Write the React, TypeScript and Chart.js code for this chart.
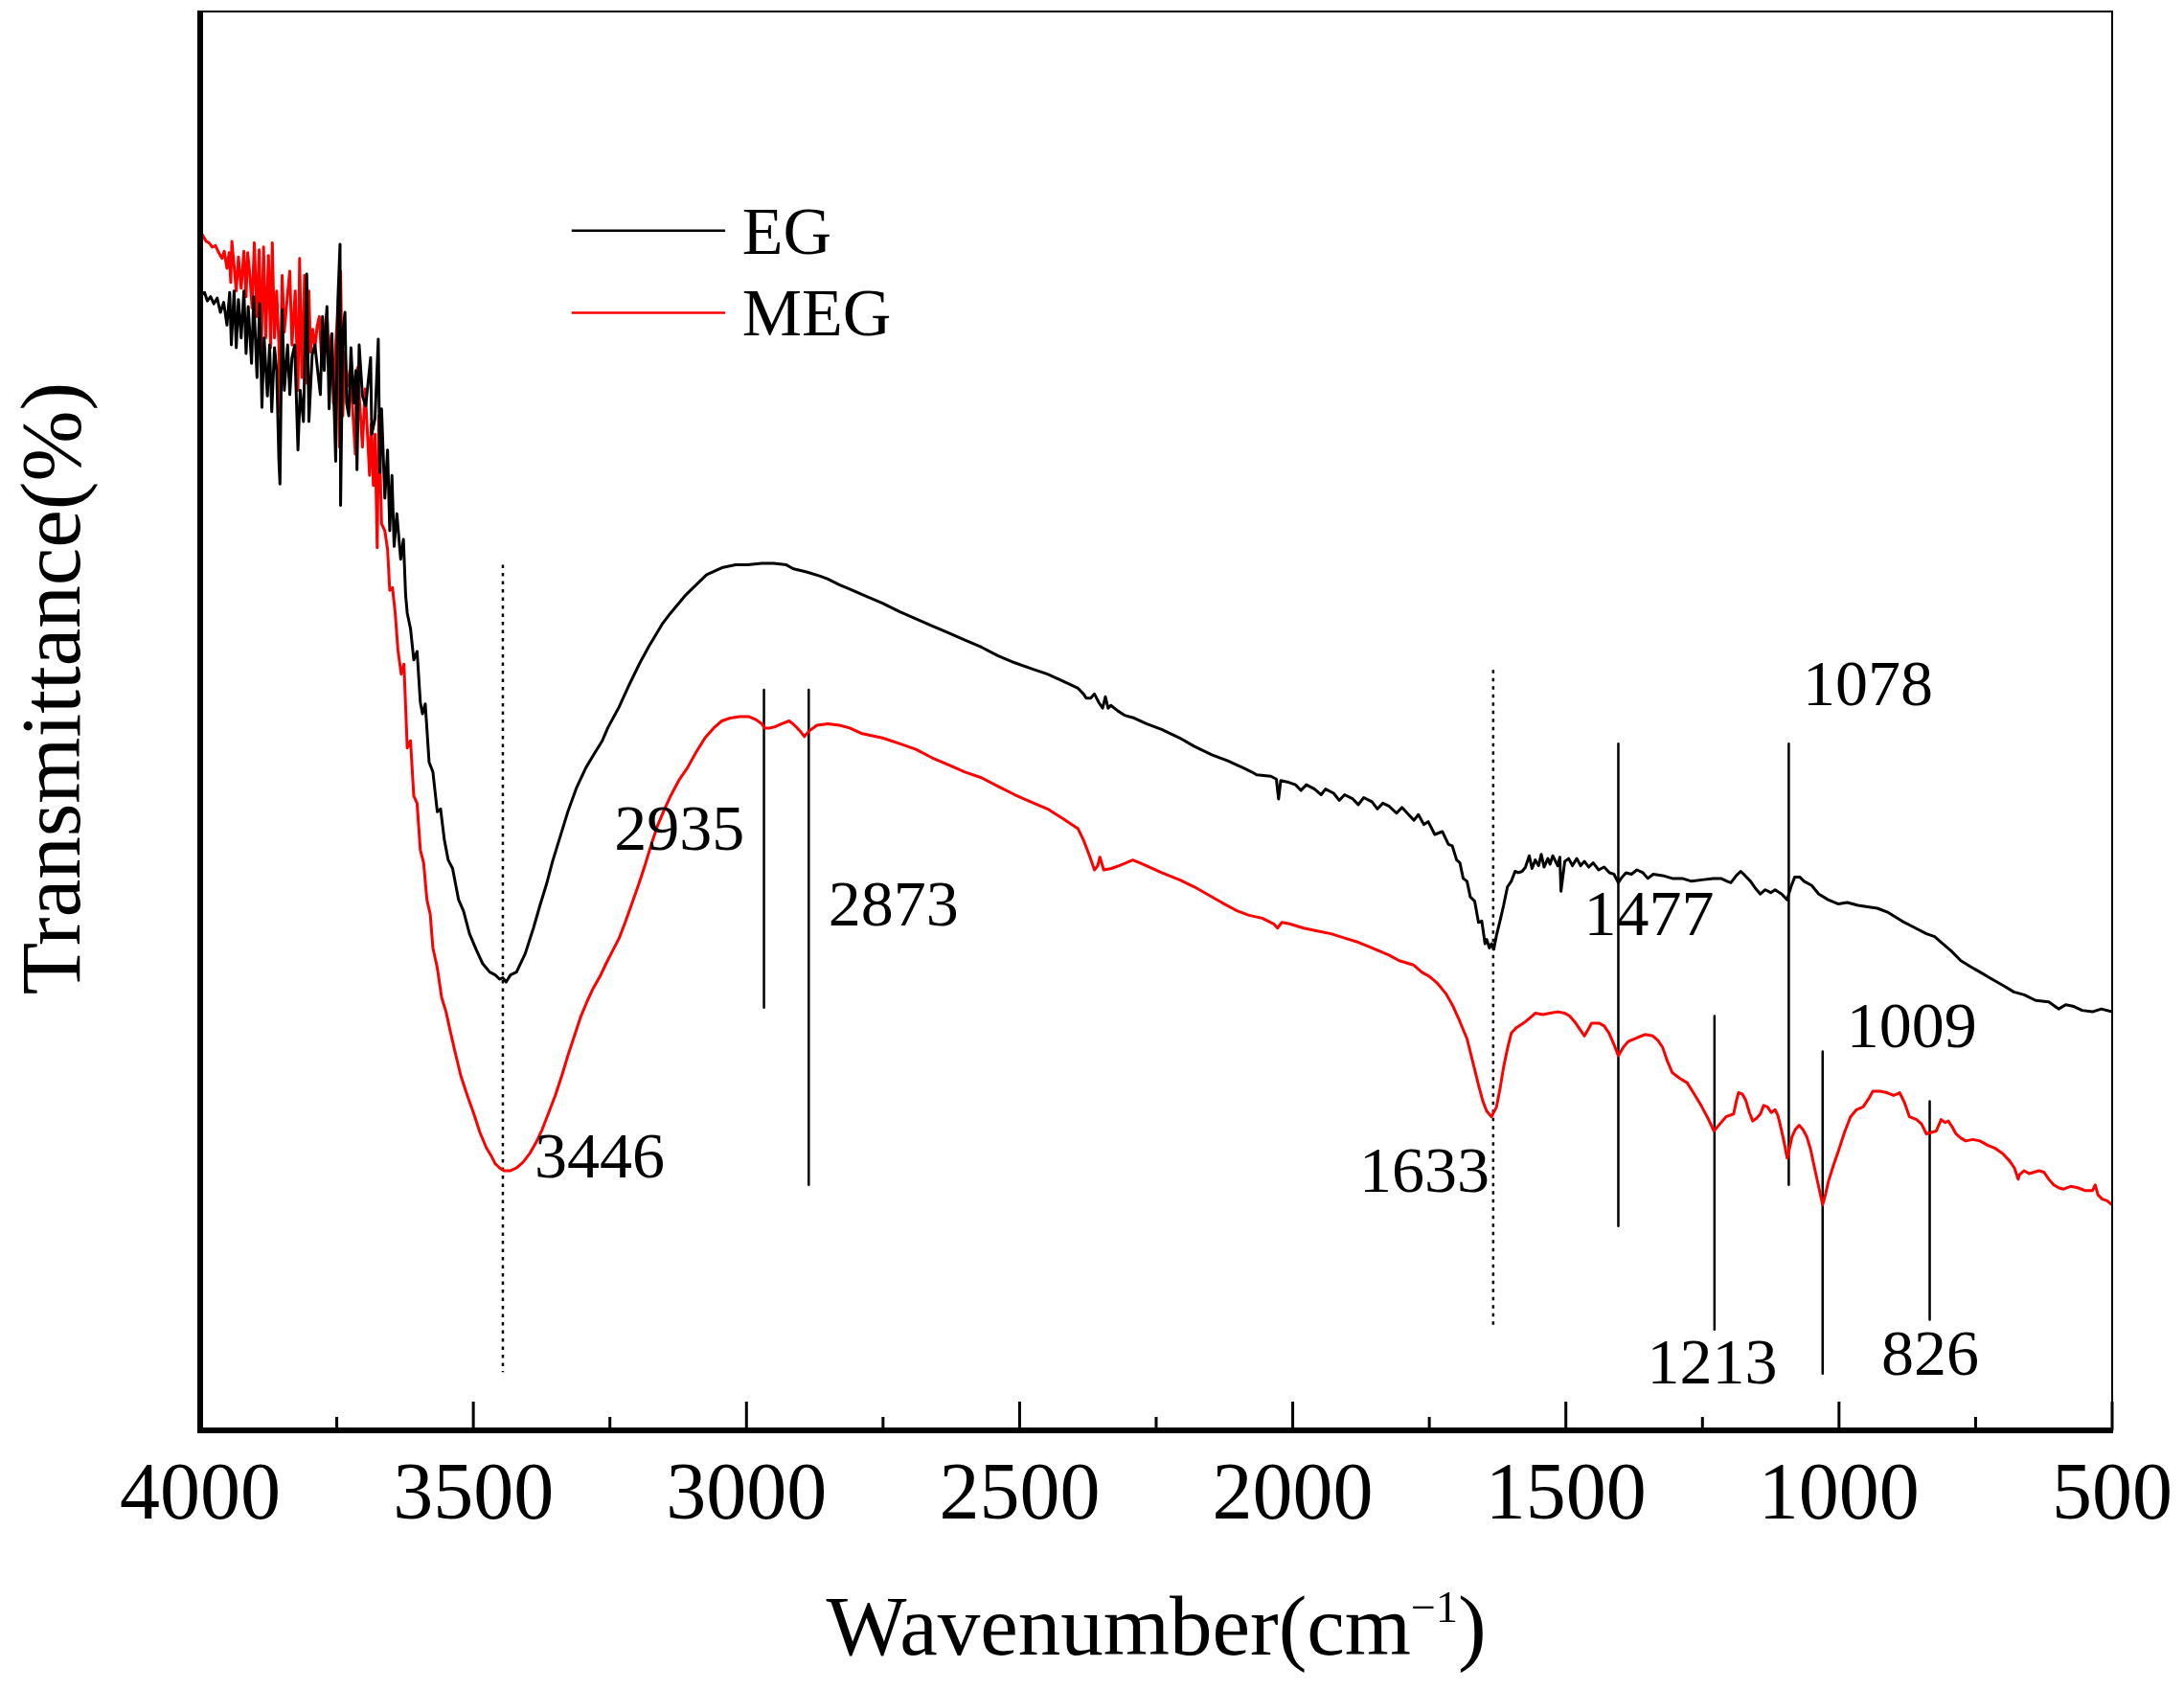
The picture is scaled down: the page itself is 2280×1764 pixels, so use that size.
import React, { useEffect, useRef } from 'react';
import { Chart, registerables } from 'chart.js';

Chart.register(...registerables);

const FONT = "'Liberation Serif', 'Times New Roman', serif";

// x axis ticks (wavenumber, cm-1)
const xTickValues = [4000, 3500, 3000, 2500, 2000, 1500, 1000, 500];
const xMinorTicks = [3750, 3250, 2750, 2250, 1750, 1250, 750];

// EG spectrum [wavenumber, transmittance (arb.)]
const egNoise: [number, number][] = [
  [4000, 80.1], [3998, 80.0], [3992, 80.2], [3987, 79.6], [3981, 79.9], [3975, 79.4], [3969, 79.8],
  [3963, 78.8], [3957, 79.5], [3951, 77.9], [3946, 80.2], [3943, 76.5], [3938, 80.3], [3934, 76.3],
  [3930, 79.7], [3925, 77.0], [3920, 80.3], [3916, 75.9], [3912, 79.2], [3906, 75.2], [3902, 79.9],
  [3896, 74.2], [3891, 79.4], [3887, 72.1], [3883, 77.0], [3877, 72.9], [3873, 76.5], [3869, 71.8],
  [3864, 76.3], [3860, 74.7], [3856, 68.4], [3854, 66.7], [3850, 79.0], [3846, 73.3], [3840, 76.5],
  [3836, 73.0], [3832, 75.6], [3827, 76.5], [3821, 69.1], [3817, 73.3], [3811, 71.1], [3805, 81.5],
  [3801, 71.1], [3795, 75.8], [3790, 76.5], [3785, 74.7], [3780, 73.0], [3776, 78.5], [3773, 74.7],
  [3768, 79.2], [3764, 72.0], [3759, 77.3], [3754, 71.1], [3752, 68.3], [3748, 79.6], [3744, 83.6],
  [3743, 65.2], [3739, 77.4], [3735, 78.8], [3732, 72.4], [3728, 71.5], [3724, 76.3], [3719, 72.4],
  [3715, 74.7], [3713, 67.7], [3709, 76.5], [3703, 72.9], [3697, 72.2], [3688, 75.6], [3686, 70.2],
  [3680, 71.3], [3674, 76.9], [3671, 67.5], [3668, 72.0], [3662, 65.7], [3657, 69.1], [3653, 63.4],
  [3649, 67.3], [3645, 62.3], [3640, 64.6], [3633, 61.4], [3628, 62.8], [3624, 58.9], [3621, 57.6],
];

const egBody: [number, number][] = [
  [3615, 56.5], [3609, 54.3], [3603, 54.9], [3597, 51.3], [3593, 50.5], [3588, 51.2], [3581, 47.1],
  [3574, 46.4], [3570, 45.0], [3566, 43.6], [3560, 43.8], [3553, 41.6], [3546, 40.2], [3538, 39.6],
  [3527, 37.4], [3518, 36.6], [3507, 35.0], [3495, 33.9], [3483, 32.9], [3470, 32.3], [3460, 32.1],
  [3452, 31.8], [3446, 31.9], [3440, 31.6], [3432, 32.1], [3421, 32.3], [3405, 33.6], [3390, 35.4],
  [3378, 37.0], [3366, 38.5], [3355, 40.1], [3343, 41.6], [3327, 43.6], [3311, 45.3], [3294, 46.7],
  [3280, 47.6], [3264, 48.6], [3254, 49.5], [3233, 51.0], [3214, 52.6], [3195, 54.1], [3178, 55.3],
  [3153, 56.9], [3139, 57.6], [3113, 58.8], [3092, 59.6], [3073, 60.3], [3045, 60.8], [3020, 61.0],
  [2998, 61.0], [2972, 61.1], [2950, 61.1], [2927, 61.0], [2918, 60.8], [2912, 60.7], [2890, 60.5],
  [2865, 60.2], [2851, 60.0], [2830, 59.6], [2811, 59.3], [2788, 58.9], [2751, 58.3], [2720, 57.7],
  [2690, 57.2], [2660, 56.7], [2630, 56.2], [2600, 55.7], [2570, 55.2], [2540, 54.6], [2509, 54.1],
  [2480, 53.7], [2449, 53.3], [2420, 52.8], [2393, 52.3], [2383, 51.9], [2378, 51.6], [2370, 51.6],
  [2363, 51.9], [2355, 51.3], [2348, 50.9], [2343, 51.7], [2338, 50.9], [2333, 51.1], [2320, 50.7],
  [2308, 50.4], [2290, 50.2], [2268, 49.8], [2240, 49.4], [2207, 48.8], [2180, 48.2], [2147, 47.6],
  [2120, 47.2], [2091, 46.7], [2075, 46.4], [2066, 46.2], [2040, 46.1], [2030, 45.9], [2026, 44.5],
  [2022, 45.8], [2010, 45.7], [1995, 45.5], [1985, 45.1], [1975, 45.5], [1960, 45.2], [1948, 44.8],
  [1940, 45.2], [1925, 44.9], [1915, 44.4], [1905, 44.8], [1890, 44.5], [1880, 44.1], [1870, 44.6],
  [1855, 44.3], [1845, 43.8], [1835, 44.2], [1824, 44.0], [1810, 43.5], [1800, 43.9], [1788, 43.4],
  [1778, 43.0], [1770, 43.4], [1760, 42.7], [1752, 42.9], [1740, 42.0], [1726, 42.2], [1715, 41.3],
  [1708, 41.2], [1700, 40.2], [1694, 40.0], [1688, 38.9], [1681, 38.7], [1675, 37.6], [1667, 37.3],
  [1660, 35.8], [1654, 35.9], [1648, 34.3], [1645, 34.6], [1640, 34.0], [1636, 34.3], [1632, 33.9],
  [1627, 34.9], [1620, 36.0], [1614, 37.0], [1607, 38.3], [1600, 38.7], [1593, 39.4], [1587, 39.3],
  [1580, 39.4], [1574, 39.7], [1567, 40.5], [1562, 39.6], [1556, 40.2], [1550, 39.8], [1545, 40.6],
  [1540, 39.7], [1533, 40.3], [1529, 39.9], [1524, 40.5], [1515, 39.8], [1511, 40.4], [1509, 38.0],
  [1502, 40.1], [1495, 40.3], [1488, 39.8], [1480, 40.3], [1473, 39.8], [1466, 40.1], [1458, 39.7],
  [1450, 40.0], [1440, 39.5], [1430, 39.7], [1420, 39.3], [1412, 39.2], [1404, 38.6], [1399, 38.9],
  [1390, 39.3], [1380, 39.2], [1370, 39.5], [1359, 39.3], [1350, 38.9], [1340, 39.2], [1323, 39.1],
  [1305, 38.9], [1287, 38.9], [1270, 38.7], [1251, 38.8], [1230, 38.9], [1216, 38.9], [1205, 38.7],
  [1198, 38.6], [1188, 39.1], [1180, 39.4], [1172, 39.1], [1162, 38.7], [1153, 38.2], [1144, 37.8],
  [1135, 38.1], [1125, 37.9], [1117, 38.1], [1105, 37.8], [1095, 37.4], [1088, 38.3], [1081, 39.0],
  [1072, 39.0], [1064, 38.7], [1050, 38.4], [1037, 37.8], [1020, 37.4], [1001, 37.1], [985, 37.2],
  [965, 37.0], [948, 36.9], [930, 36.8], [910, 36.5], [885, 35.9], [860, 35.4], [840, 35.0],
  [825, 34.8], [813, 34.4], [795, 33.8], [777, 33.1], [760, 32.7], [742, 32.3], [720, 31.8],
  [697, 31.3], [680, 30.9], [661, 30.7], [640, 30.3], [616, 30.2], [605, 29.9], [598, 29.7],
  [585, 30.0], [572, 29.9], [555, 29.6], [536, 29.5], [520, 29.7], [500, 29.5],
];

// MEG spectrum
const megNoise: [number, number][] = [
  [4000, 84.5], [3995, 84.2], [3989, 83.8], [3984, 83.7], [3978, 83.4], [3972, 83.5], [3966, 83.0],
  [3960, 82.6], [3956, 83.1], [3951, 81.9], [3947, 83.0], [3944, 80.9], [3942, 83.8], [3938, 82.1],
  [3934, 80.3], [3930, 82.7], [3925, 80.5], [3920, 83.1], [3916, 79.9], [3913, 83.0], [3909, 81.4],
  [3905, 79.1], [3901, 83.7], [3896, 78.5], [3892, 83.2], [3888, 76.3], [3884, 83.4], [3880, 77.0],
  [3875, 82.8], [3871, 76.3], [3868, 83.7], [3864, 77.0], [3860, 80.3], [3856, 76.5], [3854, 71.8],
  [3850, 81.4], [3846, 77.4], [3840, 80.1], [3836, 81.7], [3832, 76.5], [3826, 80.3], [3821, 73.3],
  [3818, 82.6], [3814, 74.2], [3809, 81.4], [3805, 73.8], [3801, 80.3], [3798, 76.0], [3794, 77.6],
  [3790, 76.3], [3786, 77.8], [3782, 78.5], [3778, 75.6], [3773, 77.4], [3768, 78.8], [3764, 75.1],
  [3760, 77.2], [3756, 72.4], [3752, 76.5], [3748, 79.2], [3745, 69.3], [3743, 81.7], [3739, 71.5],
  [3735, 76.0], [3731, 73.6], [3726, 74.7], [3721, 72.0], [3716, 68.8], [3712, 74.9], [3708, 72.4],
  [3703, 69.3], [3698, 73.4], [3694, 70.4], [3690, 67.3], [3687, 70.9], [3683, 66.6], [3680, 70.2],
  [3676, 62.2], [3673, 71.5], [3668, 63.9], [3662, 63.4], [3657, 62.1], [3653, 59.2], [3648, 59.4],
  [3643, 57.6],
];

const megBody: [number, number][] = [
  [3638, 55.0], [3632, 53.3], [3627, 54.0], [3621, 48.1], [3615, 48.6], [3609, 44.7], [3603, 44.2],
  [3597, 40.9], [3591, 40.0], [3585, 37.4], [3579, 36.4], [3574, 34.0], [3566, 32.6], [3558, 30.5],
  [3550, 29.5], [3542, 28.1], [3533, 26.6], [3523, 25.0], [3511, 23.6], [3499, 22.3], [3488, 21.0],
  [3476, 19.9], [3468, 19.4], [3460, 18.8], [3452, 18.5], [3444, 18.3], [3432, 18.3], [3421, 18.5],
  [3409, 18.9], [3397, 19.5], [3385, 20.3], [3374, 21.2], [3362, 22.4], [3350, 23.6], [3338, 25.0],
  [3327, 26.4], [3315, 27.8], [3303, 29.2], [3291, 30.3], [3280, 31.2], [3268, 32.0], [3257, 32.9],
  [3245, 33.8], [3233, 34.7], [3222, 35.8], [3210, 37.1], [3198, 38.4], [3186, 39.8], [3175, 41.2],
  [3163, 42.6], [3151, 43.7], [3139, 44.7], [3124, 45.8], [3108, 46.7], [3092, 47.8], [3076, 48.8],
  [3060, 49.5], [3045, 50.0], [3030, 50.2], [3012, 50.3], [2995, 50.3], [2983, 50.1], [2972, 49.8],
  [2967, 49.5], [2957, 49.5], [2947, 49.6], [2935, 49.8], [2922, 50.0], [2915, 49.8], [2907, 49.5],
  [2900, 49.2], [2894, 48.9], [2885, 49.3], [2871, 49.7], [2851, 49.8], [2830, 49.7], [2811, 49.5],
  [2788, 49.1], [2751, 48.8], [2720, 48.4], [2690, 48.0], [2660, 47.4], [2630, 46.9], [2600, 46.4],
  [2570, 46.0], [2540, 45.4], [2509, 44.8], [2480, 44.3], [2449, 43.8], [2420, 43.1], [2393, 42.4],
  [2383, 41.6], [2372, 40.5], [2363, 39.5], [2357, 39.8], [2353, 40.4], [2346, 39.5], [2332, 39.6],
  [2318, 39.8], [2305, 40.0], [2293, 40.2], [2280, 40.0], [2268, 39.8], [2240, 39.3], [2207, 38.8],
  [2180, 38.3], [2157, 37.8], [2130, 37.2], [2101, 36.6], [2080, 36.3], [2056, 36.1], [2035, 35.7],
  [2028, 35.4], [2020, 35.8], [2006, 35.7], [1980, 35.4], [1955, 35.2], [1930, 35.0], [1905, 34.7],
  [1880, 34.4], [1855, 34.0], [1824, 33.5], [1805, 33.1], [1779, 32.8], [1764, 32.3], [1750, 32.0],
  [1735, 31.5], [1720, 30.8], [1708, 30.0], [1695, 28.9], [1681, 27.6], [1670, 25.9], [1659, 24.2],
  [1652, 23.2], [1645, 22.5], [1636, 22.1], [1627, 22.8], [1620, 24.2], [1614, 25.6], [1607, 26.9],
  [1600, 28.0], [1590, 28.4], [1574, 28.8], [1565, 29.1], [1556, 29.4], [1542, 29.3], [1529, 29.4],
  [1515, 29.5], [1502, 29.4], [1493, 29.2], [1484, 28.8], [1475, 28.3], [1466, 27.8], [1460, 28.2],
  [1453, 28.7], [1439, 28.7], [1430, 28.5], [1421, 28.0], [1412, 27.2], [1404, 26.4], [1395, 27.0],
  [1386, 27.4], [1368, 27.7], [1355, 27.9], [1341, 27.8], [1332, 27.5], [1323, 27.0], [1314, 26.0],
  [1305, 25.2], [1291, 24.8], [1278, 24.5], [1265, 23.7], [1251, 22.8], [1240, 22.0], [1229, 21.1],
  [1218, 21.6], [1207, 22.1], [1193, 22.3], [1188, 23.2], [1184, 23.8], [1177, 23.7], [1171, 23.3],
  [1164, 22.4], [1158, 21.8], [1151, 22.0], [1144, 22.3], [1138, 22.9], [1131, 22.8], [1124, 22.4],
  [1117, 22.6], [1112, 22.2], [1108, 21.6], [1101, 20.4], [1095, 19.2], [1090, 20.0], [1086, 20.7],
  [1080, 21.2], [1073, 21.5], [1066, 21.2], [1059, 20.7], [1052, 19.8], [1046, 18.7], [1038, 17.3],
  [1030, 15.9], [1025, 16.6], [1019, 17.6], [1010, 18.7], [1001, 19.7], [990, 21.0], [979, 22.1],
  [968, 22.6], [956, 22.8], [947, 23.3], [938, 23.9], [925, 23.9], [912, 23.8], [900, 23.6],
  [889, 23.8], [880, 23.1], [871, 22.1], [858, 21.9], [849, 21.6], [840, 20.9], [831, 21.0],
  [822, 21.1], [813, 21.9], [806, 21.7], [800, 21.8], [793, 21.4], [786, 20.9], [777, 20.6],
  [768, 20.4], [755, 20.5], [742, 20.4], [728, 20.1], [715, 19.9], [700, 19.5], [688, 19.0],
  [679, 18.5], [672, 17.7], [670, 18.0], [661, 18.3], [652, 18.1], [643, 18.2], [634, 18.3],
  [625, 18.2], [616, 17.7], [607, 17.3], [598, 17.1], [589, 17.0], [576, 17.2], [563, 17.1],
  [550, 16.9], [536, 16.9], [531, 17.3], [526, 16.6], [518, 16.3], [510, 16.2], [500, 15.9],
];

// peak marker lines: [wavenumber, top, bottom]
const dottedMarkers: [number, number, number][] = [
  [3446, 61.0, 4.1],
  [1633, 53.6, 7.1],
];
const solidMarkers: [number, number, number][] = [
  [2968, 52.2, 29.8],
  [2886, 52.2, 17.3],
  [1404, 48.4, 14.4],
  [1092, 48.4, 17.3],
  [1228, 29.2, 7.1],
  [1030, 26.7, 4.0],
  [834, 23.2, 7.8],
];

// peak labels: text, anchor wavenumber, baseline value, alignment
const peakLabels: [string, number, number, CanvasTextAlign][] = [
  ['3446', 3388, 17.8, 'left'],
  ['2935', 3242, 40.9, 'left'],
  ['2873', 2850, 35.6, 'left'],
  ['1633', 1759, 16.8, 'center'],
  ['1477', 1348, 34.9, 'center'],
  ['1078', 947, 51.1, 'center'],
  ['1009', 867, 27.0, 'center'],
  ['1213', 1232, 3.3, 'center'],
  ['826', 833, 3.9, 'center'],
];

const seriesNames = ['EG', 'MEG'];
const seriesColors = ['#000000', '#ff0000'];

const toXY = (arr: [number, number][]) => arr.map(([x, y]) => ({ x, y }));

const decorPlugin = {
  id: 'decor',
  afterDraw(chart: any) {
    const { ctx, chartArea: a } = chart;
    const xs = chart.scales.x;
    const ys = chart.scales.y;
    ctx.save();
    ctx.strokeStyle = '#000';
    ctx.fillStyle = '#000';

    // frame: thin top/right, thick left/bottom
    ctx.lineWidth = 2;
    ctx.beginPath();
    ctx.moveTo(a.left, a.top);
    ctx.lineTo(a.right, a.top);
    ctx.lineTo(a.right, a.bottom);
    ctx.stroke();
    ctx.lineWidth = 6;
    ctx.beginPath();
    ctx.moveTo(a.left, a.top - 1);
    ctx.lineTo(a.left, a.bottom + 3);
    ctx.moveTo(a.left - 3, a.bottom);
    ctx.lineTo(a.right + 1, a.bottom);
    ctx.stroke();

    // inward ticks
    ctx.lineWidth = 3;
    ctx.beginPath();
    xTickValues.forEach((v) => {
      const px = xs.getPixelForValue(v);
      ctx.moveTo(px, a.bottom);
      ctx.lineTo(px, a.bottom - 30);
    });
    xMinorTicks.forEach((v) => {
      const px = xs.getPixelForValue(v);
      ctx.moveTo(px, a.bottom);
      ctx.lineTo(px, a.bottom - 14);
    });
    ctx.stroke();

    // peak labels
    ctx.font = `68px ${FONT}`;
    ctx.textBaseline = 'alphabetic';
    peakLabels.forEach(([t, wn, v, align]) => {
      ctx.textAlign = align;
      ctx.fillText(t, xs.getPixelForValue(wn), ys.getPixelForValue(v));
    });

    // legend
    ctx.font = `70px ${FONT}`;
    ctx.textAlign = 'left';
    const legRows = [84.56, 78.77];
    seriesNames.forEach((name, i) => {
      const py = ys.getPixelForValue(legRows[i]);
      ctx.strokeStyle = seriesColors[i];
      ctx.lineWidth = 2.5;
      ctx.beginPath();
      ctx.moveTo(xs.getPixelForValue(3320), py);
      ctx.lineTo(xs.getPixelForValue(3039), py);
      ctx.stroke();
      ctx.fillText(name, xs.getPixelForValue(3008), py + 24);
    });

    // x axis title with superscript
    const main = 'Wavenumber(cm';
    const sup = '\u22121';
    const close = ')';
    ctx.font = `89px ${FONT}`;
    const wMain = ctx.measureText(main).width;
    const wClose = ctx.measureText(close).width;
    ctx.font = `46px ${FONT}`;
    const wSup = ctx.measureText(sup).width;
    let tx = (a.left + a.right) / 2 - (wMain + wSup + wClose) / 2;
    const ty = a.bottom + 234;
    ctx.font = `89px ${FONT}`;
    ctx.fillText(main, tx, ty);
    tx += wMain;
    ctx.font = `46px ${FONT}`;
    ctx.fillText(sup, tx, ty - 34);
    tx += wSup;
    ctx.font = `89px ${FONT}`;
    ctx.fillText(close, tx, ty);

    // y axis title
    ctx.translate(83, (a.top + a.bottom) / 2 - 34);
    ctx.rotate(-Math.PI / 2);
    ctx.textAlign = 'center';
    ctx.font = `89px ${FONT}`;
    ctx.fillText('Transmittance(%)', 0, 0);
    ctx.restore();
  },
};

const App: React.FC = () => {
  const canvasRef = useRef<HTMLCanvasElement | null>(null);

  useEffect(() => {
    document.body.style.margin = '0';
    if (!canvasRef.current) return;
    const ctx = canvasRef.current.getContext('2d');
    if (!ctx) return;

    const markerSets = [
      ...dottedMarkers.map(([wn, top, bottom]) => ({
        data: [{ x: wn, y: top }, { x: wn, y: bottom }],
        borderColor: '#000',
        borderWidth: 2.5,
        borderDash: [3.5, 5],
      })),
      ...solidMarkers.map(([wn, top, bottom]) => ({
        data: [{ x: wn, y: top }, { x: wn, y: bottom }],
        borderColor: '#000',
        borderWidth: 2.5,
      })),
    ];

    const chart = new Chart(ctx, {
      type: 'line',
      data: {
        datasets: [
          {
            label: seriesNames[0],
            data: toXY([...egNoise, ...egBody]),
            borderColor: seriesColors[0],
            borderWidth: 3,
          },
          {
            label: seriesNames[1],
            data: toXY([...megNoise, ...megBody]),
            borderColor: seriesColors[1],
            borderWidth: 3,
          },
          ...markerSets,
        ] as any,
      },
      options: {
        animation: false,
        responsive: false,
        devicePixelRatio: 1,
        layout: { padding: { left: 209, right: 75, top: 12, bottom: 0 } },
        elements: {
          point: { radius: 0 },
          line: { tension: 0, borderJoinStyle: 'round', fill: false },
        },
        plugins: {
          legend: { display: false },
          tooltip: { enabled: false },
        },
        scales: {
          x: {
            type: 'linear',
            min: 500,
            max: 4000,
            reverse: true,
            grid: { display: false, drawTicks: false },
            border: { display: false },
            afterBuildTicks: (s: any) => {
              s.ticks = xTickValues.map((value) => ({ value }));
            },
            afterFit: (s: any) => {
              s.height = 271;
              s.paddingLeft = 0;
              s.paddingRight = 0;
            },
            ticks: {
              color: '#000',
              padding: 20,
              maxRotation: 0,
              autoSkip: false,
              font: { family: FONT, size: 84 },
              callback: (v: any) => String(v),
            },
          },
          y: {
            type: 'linear',
            min: 0,
            max: 100,
            display: false,
          },
        },
      },
      plugins: [decorPlugin],
    });

    return () => {
      chart.destroy();
    };
  }, []);

  return <canvas ref={canvasRef} width={2280} height={1764} style={{ display: 'block' }} />;
};

export default App;
